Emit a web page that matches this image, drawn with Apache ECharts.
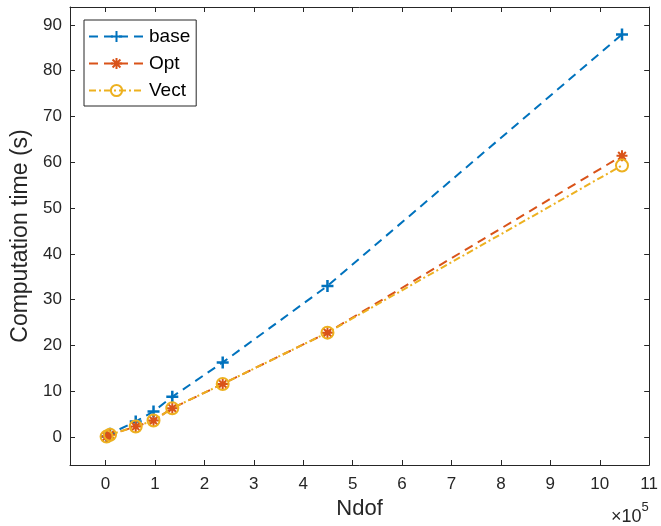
<!DOCTYPE html>
<html>
<head>
<meta charset="utf-8">
<script src="https://cdn.jsdelivr.net/npm/echarts@6/dist/echarts.min.js"></script>
<style>
  html, body { margin: 0; padding: 0; background: #fff; }
  #chart { width: 661px; height: 526px; }
</style>
</head>
<body>
<div id="chart"></div>
<script>
// Problem size (degrees of freedom)
const ndof = [2000, 9000, 61000, 97000, 135000, 237000, 449000, 1045000];
// Computation time in seconds for each implementation
const baseTime = [0.1, 0.7, 3.4, 5.6, 8.8, 16.3, 33.0, 87.9];
const optTime  = [0.1, 0.5, 2.3, 3.6, 6.3, 11.6, 22.8, 61.4];
const vectTime = [0.1, 0.5, 2.3, 3.6, 6.3, 11.6, 22.8, 59.3];

const xTicks = [0, 1, 2, 3, 4, 5, 6, 7, 8, 9, 10, 11].map(v => v * 1e5);
const yTicks = [0, 10, 20, 30, 40, 50, 60, 70, 80, 90];

const axisColor = '#262626';
const font = 'Liberation Sans, Arial, Helvetica, sans-serif';

const plusPath = 'path://M5,0L5,10M0,5L10,5';
const starPath = 'path://M5,0L5,10M0,5L10,5M1.5,1.5L8.5,8.5M1.5,8.5L8.5,1.5';

function pairs(ys) { return ndof.map((x, i) => [x, ys[i]]); }

const xRange = { min: -72000, max: 1100000 };
const yRange = { min: -6.1, max: 93.9 };

function xAxisDef(pos, labels) {
  return {
    type: 'value', position: pos, ...xRange,
    axisLine: { show: true, onZero: false, lineStyle: { color: axisColor, width: 1 } },
    axisTick: { show: true, inside: true, length: 5, customValues: xTicks, lineStyle: { color: axisColor } },
    axisLabel: labels ? {
      show: true, customValues: xTicks, color: axisColor, fontFamily: font, fontSize: 17, margin: 11,
      formatter: v => String(Math.round(v / 1e5))
    } : { show: false },
    splitLine: { show: false },
    name: labels ? 'Ndof' : '', nameLocation: 'middle', nameGap: 33,
    nameTextStyle: { color: axisColor, fontFamily: font, fontSize: 22 }
  };
}
function yAxisDef(pos, labels) {
  return {
    type: 'value', position: pos, ...yRange,
    axisLine: { show: true, onZero: false, lineStyle: { color: axisColor, width: 1 } },
    axisTick: { show: true, inside: true, length: 5, customValues: yTicks, lineStyle: { color: axisColor } },
    axisLabel: labels ? {
      show: true, customValues: yTicks, color: axisColor, fontFamily: font, fontSize: 17, margin: 8
    } : { show: false },
    splitLine: { show: false },
    name: labels ? 'Computation time (s)' : '', nameLocation: 'middle', nameGap: 33,
    nameTextStyle: { color: axisColor, fontFamily: font, fontSize: 23 }
  };
}

const chart = echarts.init(document.getElementById('chart'), null, { renderer: 'canvas' });
chart.setOption({
  animation: false,
  backgroundColor: '#fff',
  grid: { left: 70, right: 7, top: 7, bottom: 61, containLabel: false },
  xAxis: [xAxisDef('bottom', true), xAxisDef('top', false)],
  yAxis: [yAxisDef('left', true), yAxisDef('right', false)],
  legend: {
    left: 84, top: 20, orient: 'vertical',
    itemWidth: 55, itemHeight: 14, itemGap: 8,
    padding: [7, 6, 6, 4],
    backgroundColor: '#fff', borderColor: axisColor, borderWidth: 1,
    textStyle: { color: '#000', fontFamily: font, fontSize: 19 },
    data: ['base', 'Opt', 'Vect']
  },
  series: [
    {
      name: 'base', type: 'line', data: pairs(baseTime),
      symbol: plusPath, symbolSize: 12,
      lineStyle: { color: '#0072BD', width: 2, type: [9, 6] },
      itemStyle: { color: 'rgba(0,0,0,0)', borderColor: '#0072BD', borderWidth: 2.5 }
    },
    {
      name: 'Opt', type: 'line', data: pairs(optTime),
      symbol: starPath, symbolSize: 11,
      lineStyle: { color: '#D95319', width: 2, type: [9, 6] },
      itemStyle: { color: 'rgba(0,0,0,0)', borderColor: '#D95319', borderWidth: 2 }
    },
    {
      name: 'Vect', type: 'line', data: pairs(vectTime),
      symbol: 'circle', symbolSize: 12,
      lineStyle: { color: '#EDB120', width: 2, type: [7, 3, 2, 3] },
      itemStyle: { color: 'rgba(0,0,0,0)', borderColor: '#EDB120', borderWidth: 2 }
    }
  ],
  graphic: [
    {
      type: 'text', left: 611, top: 501,
      style: {
        text: '{a|×10}{b|5}',
        rich: {
          a: { fontFamily: font, fontSize: 18, fill: axisColor, verticalAlign: 'bottom' },
          b: { fontFamily: font, fontSize: 13, fill: axisColor, verticalAlign: 'top', padding: [0, 0, 12, 0] }
        }
      }
    }
  ]
});
</script>
</body>
</html>
